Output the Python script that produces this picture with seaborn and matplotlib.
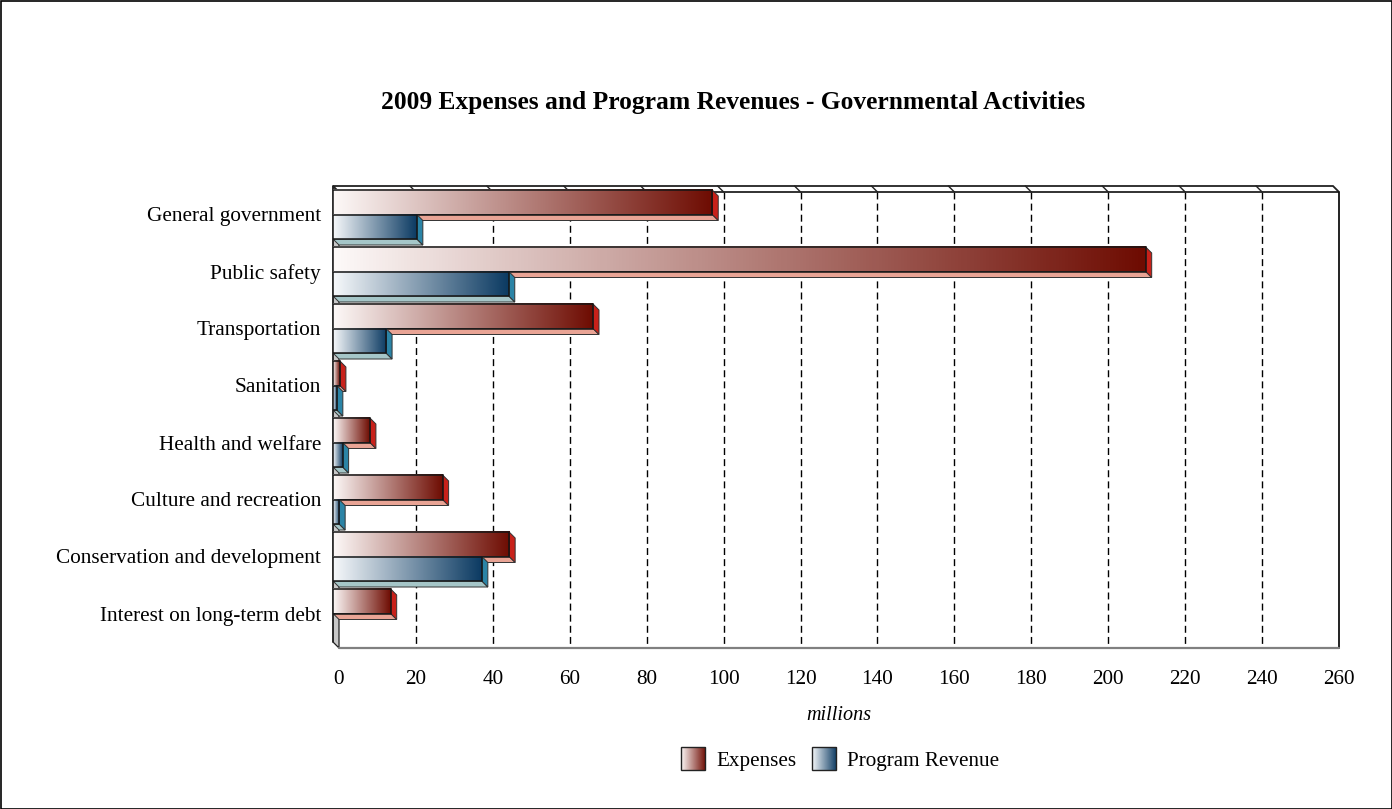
import numpy as np
import pandas as pd
import matplotlib
matplotlib.use("Agg")
import matplotlib.pyplot as plt
import seaborn as sns
from matplotlib.patches import Polygon, Rectangle
from matplotlib.colors import LinearSegmentedColormap, to_rgba
from matplotlib.legend_handler import HandlerBase
from matplotlib.image import BboxImage
from matplotlib.transforms import Bbox, TransformedBbox, ScaledTranslation, Affine2D
from matplotlib.lines import Line2D

# ---------------- data ----------------
categories = [
    "General government",
    "Public safety",
    "Transportation",
    "Sanitation",
    "Health and welfare",
    "Culture and recreation",
    "Conservation and development",
    "Interest on long-term debt",
]
expenses = [98.6, 211.3, 67.6, 1.8, 9.6, 28.5, 45.8, 15.0]
program_revenue = [21.8, 45.7, 13.8, 1.0, 2.5, 1.6, 38.7, 0.0]
series_names = ["Expenses", "Program Revenue"]
x_ticks = [0, 20, 40, 60, 80, 100, 120, 140, 160, 180, 200, 220, 240, 260]
title_text = "2009 Expenses and Program Revenues - Governmental Activities"
x_label = "millions"

# ---------------- style ----------------
W, H, DPI = 1392, 809, 100
sns.set_theme(style="white")
plt.rcParams["font.family"] = ["Liberation Serif", "DejaVu Serif"]

dark = {"Expenses": "#6e0c02", "Program Revenue": "#0b3a62"}
light = {"Expenses": "#fdf9f8", "Program Revenue": "#f7f9fb"}
side_col = {"Expenses": "#c8211a", "Program Revenue": "#2b84a6"}
bottom_col = {"Expenses": "#e9a495", "Program Revenue": "#a5c6c8"}
cmaps = {k: LinearSegmentedColormap.from_list(k, [light[k], dark[k]]) for k in series_names}
GRAD = np.linspace(0, 1, 256).reshape(1, -1)

df = pd.DataFrame({
    "category": categories * 2,
    "value": expenses + program_revenue,
    "series": [series_names[0]] * len(categories) + [series_names[1]] * len(categories),
})

fig = plt.figure(figsize=(W / DPI, H / DPI), dpi=DPI)
fig.patch.set_facecolor("white")

# back plane of the pseudo-3D box (pixels, from top-left)
BX0, BX1, BY0, BY1 = 333, 1333, 186, 642
D = 6  # depth offset in pixels
ax = fig.add_axes([BX0 / W, 1 - BY1 / H, (BX1 - BX0) / W, (BY1 - BY0) / H])
ax.set_facecolor("none")

sns.barplot(data=df, y="category", x="value", hue="series", hue_order=series_names,
            order=categories, orient="h", width=0.86, saturation=1,
            palette=[dark[s] for s in series_names], legend=False, ax=ax)

ax.set_xlim(0, 260)
ax.set_ylim(len(categories) - 0.5, -0.5)
for s in ax.spines.values():
    s.set_visible(False)

# pixel transform (image coords, y down) -> display
PIX = Affine2D().scale(1, -1).translate(0, H)


def d2px(x, y):
    dx, dy = ax.transData.transform((x, y))
    return dx, H - dy


# ---- box decoration ----
ax.add_patch(Polygon([(BX0, BY0), (BX0 + D, BY0 + D), (BX0 + D, BY1 + D), (BX0, BY1)],
                     closed=True, facecolor="#c8c8c8", edgecolor="#222222", lw=0.9,
                     transform=PIX, clip_on=False, zorder=0.6))
ax.add_patch(Polygon([(BX0, BY0), (BX1, BY0), (BX1 + D, BY0 + D), (BX0 + D, BY0 + D)],
                     closed=True, facecolor="white", edgecolor="#222222", lw=1.3,
                     transform=PIX, clip_on=False, zorder=0.6))
for t in x_ticks[1:-1]:
    px = d2px(t, 0)[0]
    ax.add_line(Line2D([px, px + D], [BY0, BY0 + D], color="#222222", lw=1.0,
                       transform=PIX, clip_on=False, zorder=0.65))
    ax.add_line(Line2D([px + D, px + D], [BY0 + D, BY1 + D], color="black", lw=1.0,
                       linestyle=(0, (5, 3)), transform=PIX, clip_on=False, zorder=0.5))
ax.add_line(Line2D([BX1 + D, BX1 + D], [BY0 + D, BY1 + D], color="#111111", lw=1.3,
                   transform=PIX, clip_on=False, zorder=0.7))
ax.add_line(Line2D([BX0 + D, BX1 + D], [BY1 + D, BY1 + D], color="#808080", lw=1.6,
                   transform=PIX, clip_on=False, zorder=0.7))
ax.add_line(Line2D([BX0, BX0], [BY0, BY1], color="#222222", lw=1.2,
                   transform=PIX, clip_on=False, zorder=0.7))

# ---- 3D bars built on seaborn's bars ----
rects = [p for p in ax.patches if isinstance(p, Rectangle) and p.get_height() > 0]
bars = []
for i, p in enumerate(rects):
    fc = p.get_facecolor()
    ser = None
    for s in series_names:
        if np.allclose(fc[:3], to_rgba(dark[s])[:3], atol=0.03):
            ser = s
    if ser is None:
        ser = series_names[min(i // len(categories), len(series_names) - 1)]
    bars.append((p.get_y(), p, ser))
bars.sort(key=lambda b: b[0])

for k, (_, p, ser) in enumerate(bars):
    base = 2 + k * 0.1
    x0, y0, w, h = p.get_x(), p.get_y(), p.get_width(), p.get_height()
    if w <= 0:
        p.set_visible(False)
        continue
    xl, yt = d2px(x0, y0)
    xr, yb = d2px(x0 + w, y0 + h)
    ax.add_patch(Polygon([(xl, yb), (xr, yb), (xr + D, yb + D), (xl + D, yb + D)], closed=True,
                         facecolor=bottom_col[ser], edgecolor="#333333", lw=0.7,
                         transform=PIX, clip_on=False, zorder=base))
    ax.add_patch(Polygon([(xr, yt), (xr + D, yt + D), (xr + D, yb + D), (xr, yb)], closed=True,
                         facecolor=side_col[ser], edgecolor="#333333", lw=0.7,
                         transform=PIX, clip_on=False, zorder=base + 0.01))
    ax.imshow(GRAD, extent=(x0, x0 + w, y0 + h, y0), aspect="auto", cmap=cmaps[ser],
              interpolation="bilinear", zorder=base + 0.02)
    p.set_facecolor("none")
    p.set_edgecolor("#151515")
    p.set_linewidth(1.1)
    p.set_zorder(base + 0.03)

ax.set_xlim(0, 260)
ax.set_ylim(len(categories) - 0.5, -0.5)

# ---- ticks & labels ----
ax.set_xticks(x_ticks)
ax.set_xticklabels([str(t) for t in x_ticks])
ax.tick_params(axis="x", length=0, pad=15.5, labelsize=15.3, labelcolor="black")
ax.tick_params(axis="y", length=0, pad=8.6, labelsize=15.3, labelcolor="black")
offset = ScaledTranslation(D / DPI, -D / DPI, fig.dpi_scale_trans)
for lab in ax.get_xticklabels():
    lab.set_transform(lab.get_transform() + offset)
ax.set_ylabel("")
ax.set_xlabel(x_label, fontsize=14.5, style="italic", color="black")
ax.xaxis.set_label_coords((839 - BX0) / (BX1 - BX0), -(716 - BY1) / (BY1 - BY0))
ax.xaxis.label.set_va("center")

fig.text(733 / W, 1 - 103 / H, title_text, ha="center", va="center",
         fontsize=18.4, fontweight="bold", color="black")


# ---- legend with gradient swatches ----
class GradientHandler(HandlerBase):
    def __init__(self, cmap):
        super().__init__()
        self.cmap = cmap

    def create_artists(self, legend, orig_handle, xdescent, ydescent, width, height,
                       fontsize, trans):
        bb = Bbox.from_bounds(-xdescent, -ydescent, width, height)
        img = BboxImage(TransformedBbox(bb, trans), cmap=self.cmap, interpolation="bilinear",
                        origin="lower")
        img.set_data(GRAD)
        rect = Rectangle((-xdescent, -ydescent), width, height, fill=False,
                         edgecolor="#222222", lw=1.0, transform=trans)
        return [img, rect]


handles = [Rectangle((0, 0), 1, 1) for _ in series_names]
ax.legend(handles, series_names,
          handler_map={h: GradientHandler(cmaps[s]) for h, s in zip(handles, series_names)},
          loc="center", bbox_to_anchor=(840 / W, 1 - 759 / H), bbox_transform=fig.transFigure,
          ncol=2, frameon=False, fontsize=15.2, handlelength=1.15, handleheight=1.25,
          handletextpad=0.5, columnspacing=0.75, labelcolor="black")

# outer frame
fig.add_artist(Rectangle((0.5 / W, 0.5 / H), 1 - 1.0 / W, 1 - 1.0 / H, transform=fig.transFigure,
                         fill=False, edgecolor="black", lw=1.2))

fig.savefig("out.png", dpi=DPI)
